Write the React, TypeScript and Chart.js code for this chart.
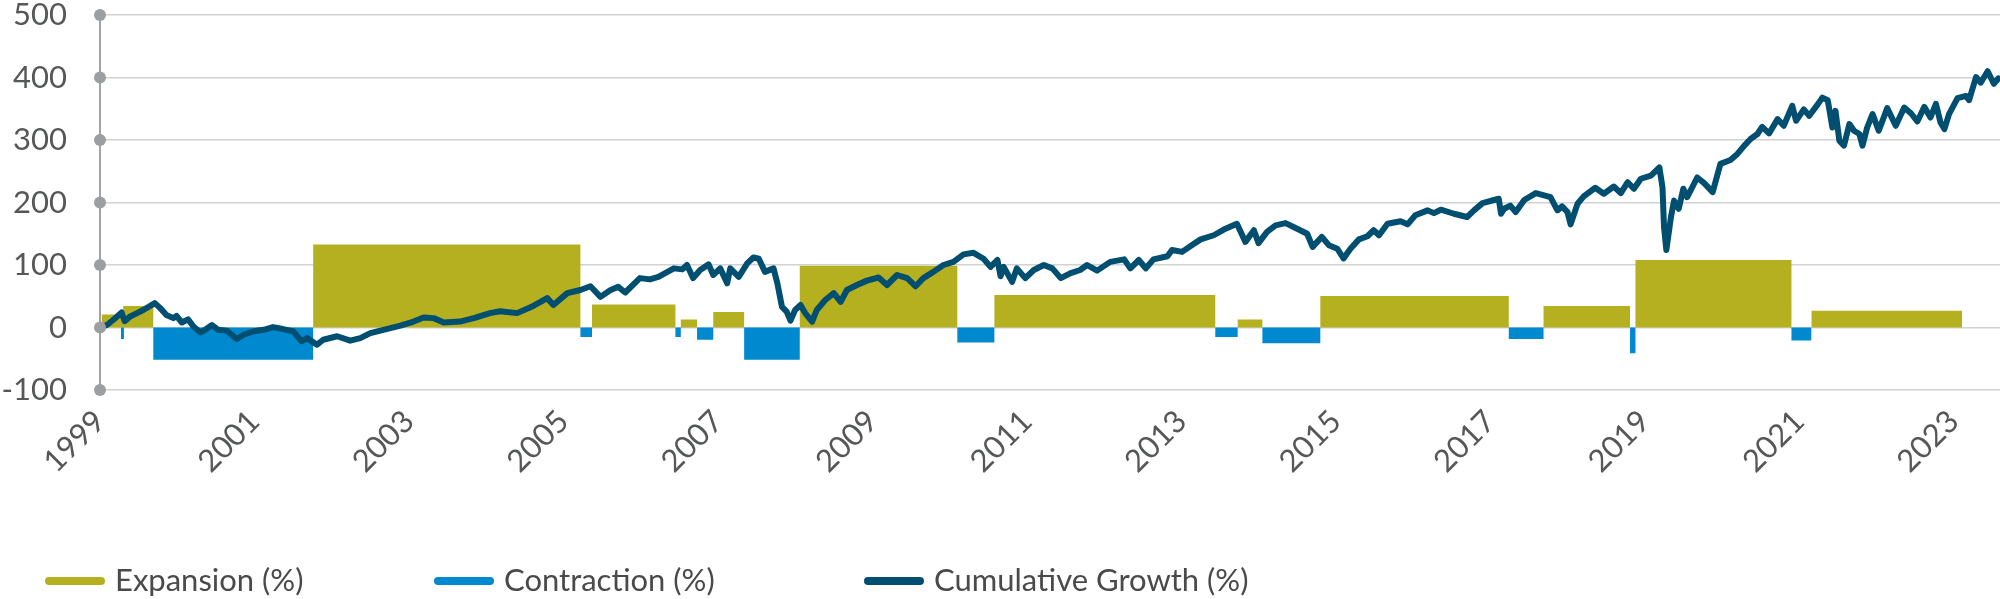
import React, { useEffect, useRef } from "react";
import { Chart, registerables } from "chart.js";

Chart.register(...registerables);

const FONT = 'Lato, "Open Sans", "DejaVu Sans", sans-serif';
const GREEN = "#b5b020";
const BLUE = "#0089cf";
const NAVY = "#004e70";
const TEXT = "#555759";

// X-axis tick labels (years) and y-axis ticks
const tickYears = [1999, 2001, 2003, 2005, 2007, 2009, 2011, 2013, 2015, 2017, 2019, 2021, 2023];
const yTicks = [-100, 0, 100, 200, 300, 400, 500];

// Expansion periods (decimal years) and their growth (%)
const expansionStart = [1999.02, 1999.3, 2001.76, 2005.37, 2006.52, 2006.94, 2008.06, 2010.58, 2013.73, 2014.8, 2017.69, 2018.88, 2021.16];
const expansionEnd = [1999.3, 1999.69, 2005.22, 2006.45, 2006.73, 2007.34, 2010.1, 2013.44, 2014.05, 2017.24, 2018.81, 2020.9, 2023.11];
const expansionValue = [21, 34.5, 133, 37, 13, 25, 99, 52, 13, 50.5, 34.5, 108, 27];

// Contraction periods (decimal years) and their decline (%)
const contractionStart = [1999.27, 1999.69, 2005.22, 2006.45, 2006.73, 2007.34, 2010.1, 2013.44, 2014.05, 2017.24, 2018.81, 2020.9];
const contractionEnd = [1999.31, 2001.76, 2005.37, 2006.52, 2006.94, 2008.06, 2010.58, 2013.73, 2014.8, 2017.69, 2018.88, 2021.16];
const contractionValue = [-18.5, -51.5, -15, -15, -19.5, -51.5, -24, -15, -25, -18.5, -41, -20.7];

// Cumulative growth (%) over time
const growthYears = [
  1999.0, 1999.09, 1999.17, 1999.28, 1999.32, 1999.39, 1999.48, 1999.56, 1999.65, 1999.71,
  1999.78, 1999.86, 1999.95, 1999.99, 2000.06, 2000.14, 2000.21, 2000.3, 2000.36, 2000.45,
  2000.53, 2000.64, 2000.77, 2000.86, 2000.99, 2001.12, 2001.24, 2001.37, 2001.5, 2001.61,
  2001.68, 2001.81, 2001.89, 2002.07, 2002.24, 2002.37, 2002.5, 2002.67, 2002.89, 2003.06,
  2003.19, 2003.32, 2003.45, 2003.66, 2003.84, 2004.05, 2004.18, 2004.4, 2004.61, 2004.79,
  2004.87, 2005.05, 2005.22, 2005.35, 2005.48, 2005.61, 2005.71, 2005.8, 2005.99, 2006.12,
  2006.23, 2006.43, 2006.54, 2006.6, 2006.68, 2006.77, 2006.88, 2006.94, 2007.03, 2007.12,
  2007.16, 2007.27, 2007.38, 2007.46, 2007.53, 2007.61, 2007.72, 2007.77, 2007.83, 2007.89,
  2007.94, 2008.0, 2008.07, 2008.13, 2008.22, 2008.28, 2008.39, 2008.5, 2008.59, 2008.67,
  2008.8, 2008.93, 2009.08, 2009.19, 2009.32, 2009.45, 2009.56, 2009.66, 2009.79, 2009.92,
  2010.05, 2010.18, 2010.31, 2010.44, 2010.53, 2010.62, 2010.66, 2010.7, 2010.81, 2010.87,
  2010.98, 2011.09, 2011.22, 2011.33, 2011.44, 2011.56, 2011.69, 2011.78, 2011.91, 2012.08,
  2012.26, 2012.34, 2012.45, 2012.54, 2012.64, 2012.82, 2012.88, 2013.01, 2013.14, 2013.25,
  2013.42, 2013.55, 2013.72, 2013.83, 2013.94, 2014.0, 2014.11, 2014.22, 2014.35, 2014.5,
  2014.63, 2014.7, 2014.82, 2014.91, 2015.02, 2015.1, 2015.19, 2015.3, 2015.41, 2015.49,
  2015.56, 2015.67, 2015.84, 2015.93, 2016.03, 2016.19, 2016.27, 2016.36, 2016.53, 2016.7,
  2016.79, 2016.9, 2017.05, 2017.11, 2017.14, 2017.18, 2017.26, 2017.33, 2017.44, 2017.59,
  2017.78, 2017.87, 2017.93, 2018.0, 2018.04, 2018.13, 2018.21, 2018.36, 2018.47, 2018.6,
  2018.69, 2018.78, 2018.86, 2018.95, 2019.08, 2019.19, 2019.23, 2019.25, 2019.28, 2019.34,
  2019.38, 2019.44, 2019.5, 2019.55, 2019.68, 2019.77, 2019.88, 2019.98, 2020.11, 2020.2,
  2020.29, 2020.37, 2020.46, 2020.52, 2020.61, 2020.72, 2020.8, 2020.91, 2020.96, 2021.06,
  2021.13, 2021.24, 2021.3, 2021.37, 2021.43, 2021.47, 2021.52, 2021.58, 2021.65, 2021.71,
  2021.78, 2021.82, 2021.88, 2021.95, 2022.03, 2022.14, 2022.25, 2022.36, 2022.45, 2022.53,
  2022.62, 2022.7, 2022.77, 2022.83, 2022.88, 2022.94, 2023.05, 2023.16, 2023.2, 2023.29,
  2023.35, 2023.44, 2023.52, 2023.58,
];
const growthValues = [
  0, 4, 12, 24, 10, 17.5, 23, 28, 34.5, 39,
  31, 20, 15, 18.6, 8, 13, 1.6, -8, -3.7, 4,
  -3.7, -5, -18.5, -11.6, -6, -3.7, 0.6, -2.5, -6, -22,
  -17, -27.5, -19.6, -14, -21, -17, -9, -3.7, 3, 9.5,
  16, 15, 8, 9.5, 15, 23, 26, 23, 34.5, 47,
  36, 55, 60, 66, 49, 60, 65, 56, 79, 77,
  81, 94.6, 93, 100, 79, 92, 101, 84, 94.6, 70.7,
  94.6, 81, 102.5, 112, 110, 89, 94.6, 70.7, 33, 25.5,
  11, 28, 36, 23, 9.5, 28, 44, 55, 41, 60,
  68, 75, 80, 68, 84, 79, 66, 79, 89, 100,
  105, 117, 119.5, 110, 97, 108, 82, 97, 73, 94.6,
  79, 92, 100, 94.6, 79, 86.6, 92, 100, 91, 105,
  109, 94.6, 108, 94.6, 109, 114, 124, 121, 132, 141,
  147.6, 156.7, 166, 137, 155.6, 135, 153, 163.5, 167, 158,
  150, 129, 145, 131.7, 126, 110.5, 126, 141, 146, 155.6,
  147.6, 166, 170, 165, 179.5, 187.4, 183, 188.5, 182, 176.8,
  187.4, 199, 204, 206, 182, 190, 195, 184.7, 204, 215,
  208.6, 187.4, 193.8, 184.7, 165, 198, 209.7, 223.6, 214, 225.6,
  215, 232.5, 222, 238, 243, 256, 224.5, 161, 124, 177,
  203, 190, 222, 208.6, 240, 231, 216.6, 261.8, 268, 277.7,
  291, 301.6, 309.6, 321, 310.5, 333.4, 322.8, 354.6, 330.7, 349,
  338.7, 357, 367.8, 363.7, 320, 346.6, 299, 291, 325.5, 314.8,
  309.6, 291, 320, 341.4, 314.8, 351, 322.8, 352, 342.4, 329.6,
  353, 336, 358, 328, 317.5, 341.4, 367, 370.5, 363.7, 400.8,
  391.7, 410, 390, 398.7,
];

const seriesLabels = ["Expansion (%)", "Contraction (%)", "Cumulative Growth (%)"];
const seriesColors = [GREEN, BLUE, NAVY];

function toRects(starts: number[], ends: number[], values: number[]) {
  const pts: { x: number; y: number }[] = [];
  starts.forEach((s, i) => {
    pts.push({ x: s, y: 0 }, { x: s, y: values[i] }, { x: ends[i], y: values[i] }, { x: ends[i], y: 0 });
  });
  return pts;
}

const axisDotsPlugin = {
  id: "axisDots",
  afterDatasetsDraw(chart: any) {
    const y = chart.scales.y;
    const ctx = chart.ctx;
    ctx.save();
    ctx.fillStyle = "#9b9fa2";
    y.ticks.forEach((t: any) => {
      const py = y.getPixelForValue(t.value);
      ctx.beginPath();
      ctx.arc(chart.chartArea.left, py, 6, 0, Math.PI * 2);
      ctx.fill();
    });
    ctx.restore();
  },
};

const legendX = [45, 434, 864];
const bottomLegendPlugin = {
  id: "bottomLegend",
  afterDraw(chart: any) {
    const ctx = chart.ctx;
    const yMid = 581;
    ctx.save();
    ctx.font = `400 31px ${FONT}`;
    ctx.textBaseline = "middle";
    ctx.textAlign = "left";
    chart.data.datasets.forEach((ds: any, i: number) => {
      const x = legendX[i];
      ctx.fillStyle = seriesColors[i];
      ctx.beginPath();
      ctx.roundRect(x, yMid - 4, 60, 8, 4);
      ctx.fill();
      ctx.fillStyle = "#4a4a4a";
      ctx.fillText(ds.label, x + 70, yMid);
    });
    ctx.restore();
  },
};

export default function App() {
  const canvasRef = useRef<HTMLCanvasElement | null>(null);

  useEffect(() => {
    if (!canvasRef.current) return;
    const chart = new Chart(canvasRef.current, {
      type: "line",
      data: {
        datasets: [
          {
            label: seriesLabels[0],
            data: toRects(expansionStart, expansionEnd, expansionValue),
            backgroundColor: GREEN,
            borderColor: GREEN,
            borderWidth: 0,
            pointRadius: 0,
            fill: "origin",
            tension: 0,
            order: 2,
          },
          {
            label: seriesLabels[1],
            data: toRects(contractionStart, contractionEnd, contractionValue),
            backgroundColor: BLUE,
            borderColor: BLUE,
            borderWidth: 0,
            pointRadius: 0,
            fill: "origin",
            tension: 0,
            order: 1,
          },
          {
            label: seriesLabels[2],
            data: growthYears.map((x, i) => ({ x, y: growthValues[i] })),
            backgroundColor: NAVY,
            borderColor: NAVY,
            borderWidth: 6,
            pointRadius: 0,
            fill: false,
            tension: 0,
            borderJoinStyle: "round",
            borderCapStyle: "round",
            order: 0,
          },
        ],
      } as any,
      options: {
        animation: false,
        responsive: true,
        maintainAspectRatio: false,
        parsing: false as any,
        layout: { padding: { top: 15, right: 0, left: 0, bottom: 0 } },
        plugins: {
          legend: { display: false },
          tooltip: { enabled: false },
        },
        scales: {
          x: {
            type: "linear",
            min: 1999,
            max: 2023.6,
            grid: { display: false, drawTicks: false },
            border: { display: false },
            afterBuildTicks: (axis: any) => {
              axis.ticks = tickYears.map((v) => ({ value: v }));
            },
            afterFit: (axis: any) => {
              axis.height = 209;
              axis.paddingLeft = 0;
              axis.paddingRight = 0;
            },
            ticks: {
              autoSkip: false,
              maxRotation: 45,
              minRotation: 45,
              padding: 13,
              color: TEXT,
              font: { family: FONT, size: 31, weight: "400" as any },
              callback: (v: any) => String(v),
            },
          },
          y: {
            type: "linear",
            min: -100,
            max: 500,
            afterBuildTicks: (axis: any) => {
              axis.ticks = yTicks.map((v) => ({ value: v }));
            },
            afterFit: (axis: any) => {
              axis.width = 100;
              axis.paddingTop = 0;
              axis.paddingBottom = 0;
            },
            grid: { color: "#d2d2d2", lineWidth: 1.5, drawTicks: false },
            border: { display: true, color: "#a0a4a7", width: 2 },
            ticks: {
              padding: 33,
              color: TEXT,
              font: { family: FONT, size: 31, weight: "400" as any },
              callback: (v: any) => String(v),
            },
          },
        },
      } as any,
      plugins: [axisDotsPlugin, bottomLegendPlugin],
    });
    return () => chart.destroy();
  }, []);

  return (
    <div style={{ position: "absolute", left: 0, top: 0, width: "2000px", height: "599px" }}>
      <canvas ref={canvasRef} />
    </div>
  );
}
